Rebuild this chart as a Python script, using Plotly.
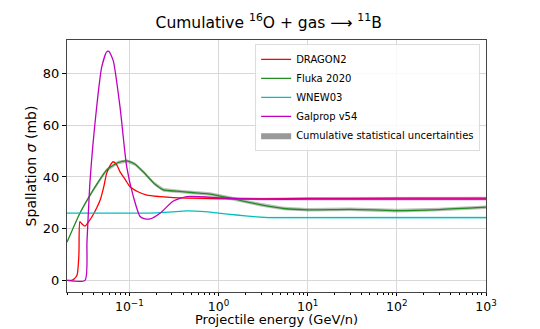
import numpy as np
import plotly.graph_objects as go

# energies in GeV/n, cross sections in mb
e_dragon = [0.02, 0.0225, 0.024, 0.026, 0.0272, 0.0279, 0.0295, 0.0318, 0.0355, 0.0394, 0.043, 0.047,
            0.0515, 0.0557, 0.061, 0.066, 0.072, 0.0787, 0.09, 0.102, 0.125, 0.157, 0.22, 0.312,
            0.5, 1.0, 3.0, 10.0, 100.0, 1000.0]
v_dragon = [0.0, 0.0, 0.5, 2.2, 10.0, 22.7, 21.8, 21.0, 23.0, 25.5, 28.0, 31.0,
            36.0, 41.4, 44.5, 45.9, 44.8, 42.0, 39.0, 36.2, 34.3, 33.0, 32.4, 32.0,
            31.8, 31.6, 31.5, 31.7, 31.8, 31.8]
err_dragon = [0.0] * 24 + [0.3, 0.4, 0.5, 0.6, 0.6, 0.6]

e_fluka = [0.02, 0.0279, 0.0394, 0.0557, 0.075, 0.094, 0.115, 0.143, 0.19, 0.241, 0.341, 0.5,
           0.807, 1.35, 2.94, 5.4, 10.0, 30.0, 100.0, 300.0, 1000.0]
v_fluka = [14.8, 26.0, 35.0, 42.7, 45.6, 46.2, 45.0, 42.0, 37.5, 35.0, 34.5, 34.0,
           33.4, 31.8, 29.3, 27.8, 27.3, 27.5, 27.0, 27.4, 28.3]
err_fluka = [0.0, 0.3] + [0.7] * (len(e_fluka) - 2)

e_wnew = [0.02, 0.1, 0.2, 0.3, 0.44, 0.7, 1.0, 1.6, 2.5, 3.8, 10.0, 100.0, 1000.0]
v_wnew = [26.0, 26.0, 26.1, 26.5, 26.9, 26.6, 26.0, 25.3, 24.7, 24.3, 24.3, 24.3, 24.3]
err_wnew = [0.0] * 9 + [0.3, 0.4, 0.4, 0.4]

e_galprop = [0.02, 0.0318, 0.0335, 0.0363, 0.043, 0.049, 0.0557, 0.059, 0.066, 0.0787, 0.0935,
             0.111, 0.132, 0.15, 0.171, 0.221, 0.312, 0.44, 0.7, 1.0, 3.0, 10.0, 100.0, 1000.0]
v_galprop = [0.0, 0.0, 15.0, 38.7, 67.0, 82.5, 88.4, 88.6, 85.0, 67.0, 43.9,
             32.4, 24.7, 23.8, 23.8, 26.0, 30.7, 32.4, 32.3, 31.9, 31.4, 31.4, 31.4, 31.4]
err_galprop = [0.0] * 18 + [0.3, 0.4, 0.5, 0.5, 0.5, 0.5]

series = [
    ("DRAGON2", e_dragon, v_dragon, err_dragon, "#ff0000", "rgba(255,0,0,0.35)"),
    ("Fluka 2020", e_fluka, v_fluka, err_fluka, "#228b22", "rgba(60,70,60,0.35)"),
    ("WNEW03", e_wnew, v_wnew, err_wnew, "#00bfbf", "rgba(0,190,190,0.35)"),
    ("Galprop v54", e_galprop, v_galprop, err_galprop, "#bf00bf", "rgba(190,0,190,0.35)"),
]

fig = go.Figure()
for name, e, v, err, col, band in series:
    lo = list(np.array(v) - np.array(err))
    hi = list(np.array(v) + np.array(err))
    fig.add_trace(go.Scatter(x=e + e[::-1], y=hi + lo[::-1], fill="toself", fillcolor=band,
                             line=dict(width=0), mode="lines", hoverinfo="skip", showlegend=False))
    fig.add_trace(go.Scatter(x=e, y=v, mode="lines", name=name,
                             line=dict(color=col, width=1.3, shape="spline", smoothing=0.6)))

# legend entry for the uncertainty bands
fig.add_trace(go.Scatter(x=[None], y=[None], mode="lines", fill="toself", fillcolor="#999999",
                         line=dict(width=0, color="#999999"),
                         name="Cumulative statistical uncertainties"))

# the page adds an 8px body margin, so the figure is a little smaller than the window
fig.update_layout(
    width=532, height=321,
    margin=dict(l=59, r=54, t=32, b=37),
    plot_bgcolor="white", paper_bgcolor="white",
    font=dict(family="DejaVu Sans", size=13, color="black"),
    title=dict(text="Cumulative <sup>16</sup>O + gas \u27f6 <sup>11</sup>B",
               x=0.49, xanchor="center", yref="container", y=0.955, yanchor="middle",
               font=dict(size=15.5)),
    showlegend=True,
    legend=dict(x=0.986, y=0.985, xanchor="right", yanchor="top", bgcolor="rgba(255,255,255,0.85)",
                bordercolor="#dddddd", borderwidth=1, font=dict(size=10), tracegroupgap=0,
                itemwidth=30),
)

# x title placed by hand so it sits tight under the tick labels
fig.add_annotation(text="Projectile energy (GeV/n)", xref="paper", yref="paper",
                   x=0.5, y=-0.111, xanchor="center", yanchor="middle", showarrow=False,
                   font=dict(size=13))

fig.update_xaxes(
    type="log", range=[np.log10(0.02), 3],
    tickvals=[0.1, 1, 10, 100, 1000],
    ticktext=["10<sup>\u22121</sup>", "10<sup>0</sup>", "10<sup>1</sup>", "10<sup>2</sup>", "10<sup>3</sup>"],
    tickfont=dict(size=12.5),
    ticks="outside", ticklen=3, tickcolor="black",
    showgrid=True, gridcolor="#d8d8d8", gridwidth=1,
    showline=True, linecolor="#444444", linewidth=1, mirror=True,
    minor=dict(ticks="outside", ticklen=2, tickcolor="black", showgrid=False, dtick="D1"),
    automargin=False,
    zeroline=False,
)
fig.update_yaxes(
    range=[-4.5, 93], tickvals=[0, 20, 40, 60, 80],
    ticks="outside", ticklen=4, tickcolor="black",
    showgrid=True, gridcolor="#d8d8d8", gridwidth=1,
    showline=True, linecolor="#444444", linewidth=1, mirror=True,
    title=dict(text="Spallation <i>\u03c3</i> (mb)", standoff=2, font=dict(size=14)),
    zeroline=False,
)

fig.write_html("out.html")
